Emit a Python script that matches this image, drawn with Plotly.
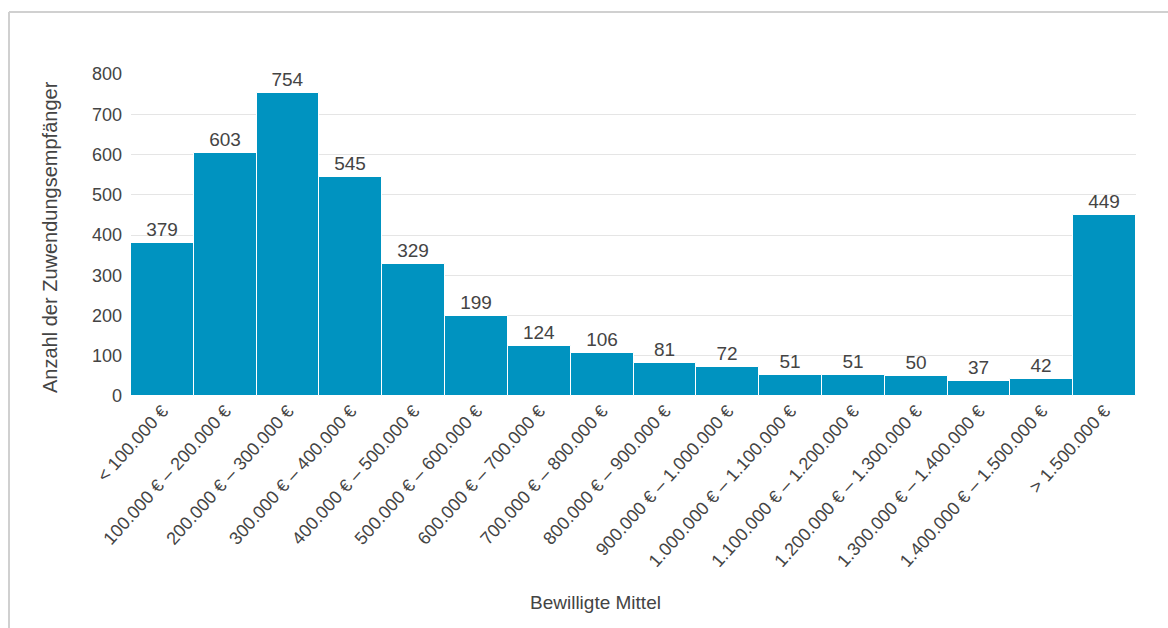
import plotly.graph_objects as go

categories = [
    "< 100.000 €",
    "100.000 € – 200.000 €",
    "200.000 € – 300.000 €",
    "300.000 € – 400.000 €",
    "400.000 € – 500.000 €",
    "500.000 € – 600.000 €",
    "600.000 € – 700.000 €",
    "700.000 € – 800.000 €",
    "800.000 € – 900.000 €",
    "900.000 € – 1.000.000 €",
    "1.000.000 € – 1.100.000 €",
    "1.100.000 € – 1.200.000 €",
    "1.200.000 € – 1.300.000 €",
    "1.300.000 € – 1.400.000 €",
    "1.400.000 € – 1.500.000 €",
    "> 1.500.000 €",
]
values = [379, 603, 754, 545, 329, 199, 124, 106, 81, 72, 51, 51, 50, 37, 42, 449]
y_ticks = [0, 100, 200, 300, 400, 500, 600, 700, 800]
x_title = "Bewilligte Mittel"
y_title = "Anzahl der Zuwendungsempfänger"

TEXT = "#444444"
FONT = "Liberation Sans, Arial, sans-serif"

fig = go.Figure(
    go.Bar(
        x=categories,
        y=values,
        text=[str(v) for v in values],
        textposition="outside",
        cliponaxis=False,
        textfont=dict(size=19, color=TEXT, family=FONT),
        marker=dict(color="#0093C0", line=dict(color="white", width=1)),
        hoverinfo="x+y",
    )
)

L, R, T, B = 131, 32, 74, 232
W, H = 1168, 628
pw, ph = W - L - R, H - T - B


def px_x(x):
    return (x - L) / pw


def px_y(y):
    return (T + ph - y) / ph


fig.update_layout(
    width=W,
    height=H,
    margin=dict(l=L, r=R, t=T, b=B),
    paper_bgcolor="white",
    plot_bgcolor="white",
    bargap=0,
    showlegend=False,
    font=dict(family=FONT, color=TEXT, size=18),
    xaxis=dict(
        tickangle=-48,
        tickfont=dict(size=18, color=TEXT),
        showgrid=False,
        showline=False,
        ticks="",
    ),
    yaxis=dict(
        range=[0, 800],
        tickvals=y_ticks,
        tickfont=dict(size=18, color=TEXT),
        ticklabelstandoff=8,
        gridcolor="#E5E5E5",
        gridwidth=1,
        zeroline=False,
        showline=False,
        ticks="",
    ),
    annotations=[
        dict(text=x_title, xref="paper", yref="paper", x=px_x(595), y=px_y(602),
             xanchor="center", yanchor="middle", showarrow=False,
             font=dict(size=19, color=TEXT, family=FONT)),
        dict(text=y_title, xref="paper", yref="paper", x=px_x(50), y=px_y(237),
             xanchor="center", yanchor="middle", showarrow=False, textangle=-90,
             font=dict(size=20, color=TEXT, family=FONT)),
    ],
    shapes=[
        dict(type="line", xref="paper", yref="paper",
             x0=px_x(9), x1=px_x(W + 10),
             y0=px_y(12), y1=px_y(12),
             line=dict(color="#D0D0D0", width=2)),
        dict(type="line", xref="paper", yref="paper",
             x0=px_x(9), x1=px_x(9),
             y0=px_y(12), y1=px_y(H + 10),
             line=dict(color="#D0D0D0", width=2)),
    ],
)

fig.write_html("out.html")
